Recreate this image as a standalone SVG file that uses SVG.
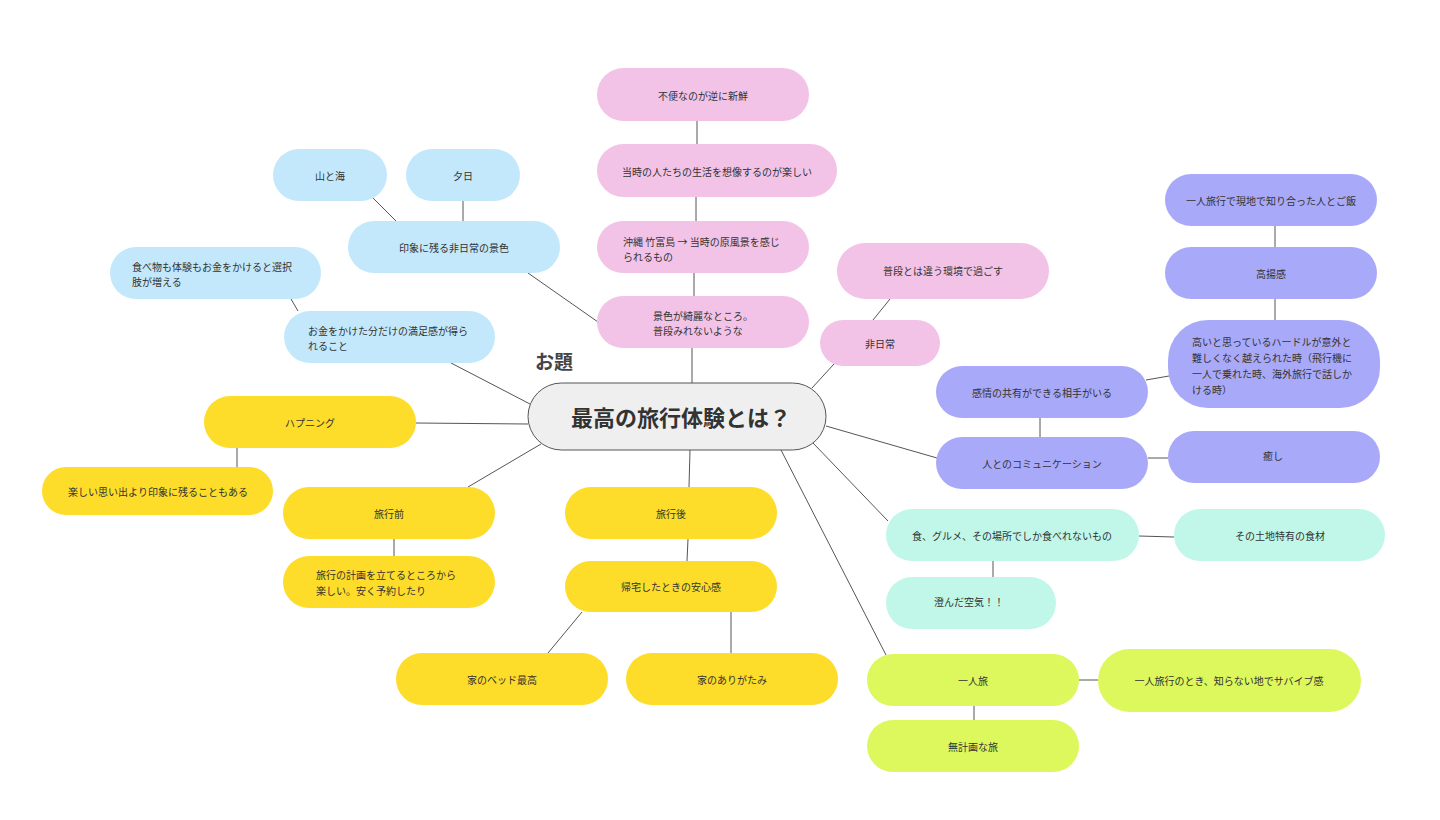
<svg xmlns="http://www.w3.org/2000/svg" width="1440" height="820" viewBox="0 0 1440 820">
<style>
text{font-family:"Noto Sans CJK JP","Noto Sans",sans-serif;font-size:10px;fill:#333}
.c{text-anchor:middle;dominant-baseline:central}
.l{dominant-baseline:central}
.blue{fill:#c3e8fb}
.pink{fill:#f2c3e7}
.yel{fill:#fddc2a}
.pur{fill:#a9a9f9}
.mint{fill:#c0f7e8}
.lime{fill:#dcf85c}
#edges line{stroke:#555;stroke-width:1}
</style>
<rect width="1440" height="820" fill="#fff"/>
<g id="edges">
<line x1="373" y1="198" x2="396" y2="221"/>
<line x1="463" y1="201" x2="463" y2="221"/>
<line x1="528" y1="273" x2="598" y2="322"/>
<line x1="291" y1="299" x2="298" y2="311"/>
<line x1="451" y1="363" x2="530" y2="404"/>
<line x1="697" y1="121" x2="697" y2="144"/>
<line x1="696" y1="197" x2="696" y2="221"/>
<line x1="694" y1="273" x2="694" y2="296"/>
<line x1="692" y1="348" x2="692" y2="383"/>
<line x1="873" y1="320" x2="890" y2="299"/>
<line x1="812" y1="388" x2="834" y2="364"/>
<line x1="826" y1="426" x2="937" y2="458"/>
<line x1="1040" y1="418" x2="1040" y2="437"/>
<line x1="1146" y1="380" x2="1169" y2="376"/>
<line x1="1275" y1="226" x2="1275" y2="247"/>
<line x1="1275" y1="299" x2="1275" y2="320"/>
<line x1="1148" y1="458" x2="1168" y2="458"/>
<line x1="813" y1="443" x2="888" y2="521"/>
<line x1="1139" y1="536" x2="1174" y2="537"/>
<line x1="993" y1="561" x2="993" y2="577"/>
<line x1="781" y1="450" x2="886" y2="655"/>
<line x1="1079" y1="680" x2="1098" y2="680"/>
<line x1="974" y1="706" x2="974" y2="720"/>
<line x1="416" y1="423" x2="528" y2="424"/>
<line x1="237" y1="448" x2="237" y2="467"/>
<line x1="468" y1="487" x2="541" y2="444"/>
<line x1="394" y1="539" x2="394" y2="556"/>
<line x1="690" y1="450" x2="689" y2="487"/>
<line x1="688" y1="539" x2="687" y2="561"/>
<line x1="582" y1="612" x2="548" y2="653"/>
<line x1="731" y1="612" x2="731" y2="653"/>
</g>
<g id="center">
<rect x="528" y="383" width="298" height="67" rx="33.5" fill="#efefef" stroke="#555" stroke-width="1"/>
<text x="681" y="416" class="c" style="font-size:22px;font-weight:bold;fill:#333">最高の旅行体験とは？</text>
</g>
<g id="label-odai"><text x="535" y="369" style="font-size:19px;font-weight:bold;fill:#444">お題</text></g>
<g id="n-yamaumi"><rect x="273" y="149" width="114" height="52" rx="26" class="blue"/><text x="330" y="175" class="c">山と海</text></g>
<g id="n-yuuhi"><rect x="406" y="149" width="114" height="52" rx="26" class="blue"/><text x="463" y="175" class="c">夕日</text></g>
<g id="n-inshou"><rect x="348" y="221" width="212" height="52" rx="26" class="blue"/><text x="454" y="247" class="c">印象に残る非日常の景色</text></g>
<g id="n-tabemono"><rect x="110" y="247" width="211" height="52" rx="26" class="blue"/><text x="132" y="266" class="l">食べ物も体験もお金をかけると選択</text><text x="132" y="281" class="l">肢が増える</text></g>
<g id="n-okane"><rect x="284" y="311" width="211" height="52" rx="26" class="blue"/><text x="308" y="330" class="l">お金をかけた分だけの満足感が得ら</text><text x="308" y="345" class="l">れること</text></g>
<g id="n-fuben"><rect x="597" y="68" width="212" height="53" rx="26.5" class="pink"/><text x="703" y="95" class="c">不便なのが逆に新鮮</text></g>
<g id="n-touji"><rect x="597" y="144" width="240" height="53" rx="26.5" class="pink"/><text x="717" y="171" class="c">当時の人たちの生活を想像するのが楽しい</text></g>
<g id="n-okinawa"><rect x="597" y="221" width="212" height="52" rx="26" class="pink"/><text x="623" y="241" class="l">沖縄 竹富島 → 当時の原風景を感じ</text><text x="623" y="256" class="l">られるもの</text></g>
<g id="n-keshiki"><rect x="597" y="296" width="212" height="52" rx="26" class="pink"/><text x="653" y="315" class="l">景色が綺麗なところ。</text><text x="653" y="330" class="l">普段みれないような</text></g>
<g id="n-fudan"><rect x="837" y="243" width="212" height="56" rx="28" class="pink"/><text x="943" y="270" class="c">普段とは違う環境で過ごす</text></g>
<g id="n-hinichijou"><rect x="820" y="320" width="120" height="46" rx="23" class="pink"/><text x="880" y="343" class="c">非日常</text></g>
<g id="n-hitori-gohan"><rect x="1165" y="174" width="212" height="52" rx="26" class="pur"/><text x="1271" y="200" class="c">一人旅行で現地で知り合った人とご飯</text></g>
<g id="n-kouyou"><rect x="1165" y="247" width="212" height="52" rx="26" class="pur"/><text x="1271" y="273" class="c">高揚感</text></g>
<g id="n-hurdle"><rect x="1168" y="320" width="212" height="88" rx="40" class="pur"/><text x="1192" y="341" class="l">高いと思っているハードルが意外と</text><text x="1192" y="357" class="l">難しくなく越えられた時（飛行機に</text><text x="1192" y="373" class="l">一人で乗れた時、海外旅行で話しか</text><text x="1192" y="389" class="l">ける時）</text></g>
<g id="n-kanjou"><rect x="936" y="366" width="212" height="52" rx="26" class="pur"/><text x="1042" y="392" class="c">感情の共有ができる相手がいる</text></g>
<g id="n-comm"><rect x="936" y="437" width="212" height="52" rx="26" class="pur"/><text x="1042" y="463" class="c">人とのコミュニケーション</text></g>
<g id="n-iyashi"><rect x="1168" y="431" width="212" height="52" rx="26" class="pur"/><text x="1273" y="455" class="c">癒し</text></g>
<g id="n-gurume"><rect x="886" y="509" width="253" height="52" rx="26" class="mint"/><text x="1012" y="535" class="c">食、グルメ、その場所でしか食べれないもの</text></g>
<g id="n-tochi"><rect x="1174" y="509" width="211" height="52" rx="26" class="mint"/><text x="1280" y="535" class="c">その土地特有の食材</text></g>
<g id="n-kuuki"><rect x="886" y="577" width="170" height="52" rx="26" class="mint"/><text x="969" y="601" class="c">澄んだ空気！！</text></g>
<g id="n-hitoritabi"><rect x="867" y="654" width="212" height="52" rx="26" class="lime"/><text x="973" y="680" class="c">一人旅</text></g>
<g id="n-survive"><rect x="1098" y="649" width="263" height="63" rx="31.5" class="lime"/><text x="1229" y="680" class="c">一人旅行のとき、知らない地でサバイブ感</text></g>
<g id="n-mukeikaku"><rect x="867" y="720" width="212" height="52" rx="26" class="lime"/><text x="973" y="746" class="c">無計画な旅</text></g>
<g id="n-happening"><rect x="204" y="396" width="212" height="52" rx="26" class="yel"/><text x="310" y="422" class="c">ハプニング</text></g>
<g id="n-tanoshii"><rect x="42" y="467" width="231" height="48" rx="24" class="yel"/><text x="158" y="491" class="c">楽しい思い出より印象に残ることもある</text></g>
<g id="n-ryokoumae"><rect x="283" y="487" width="212" height="52" rx="26" class="yel"/><text x="389" y="513" class="c">旅行前</text></g>
<g id="n-keikaku"><rect x="283" y="556" width="212" height="52" rx="26" class="yel"/><text x="316" y="574" class="l">旅行の計画を立てるところから</text><text x="316" y="590" class="l">楽しい。安く予約したり</text></g>
<g id="n-ryokougo"><rect x="565" y="487" width="212" height="52" rx="26" class="yel"/><text x="671" y="513" class="c">旅行後</text></g>
<g id="n-kitaku"><rect x="565" y="561" width="212" height="51" rx="25.5" class="yel"/><text x="671" y="586" class="c">帰宅したときの安心感</text></g>
<g id="n-bed"><rect x="396" y="653" width="212" height="52" rx="26" class="yel"/><text x="502" y="679" class="c">家のベッド最高</text></g>
<g id="n-arigatami"><rect x="626" y="653" width="212" height="52" rx="26" class="yel"/><text x="732" y="679" class="c">家のありがたみ</text></g>
</svg>
